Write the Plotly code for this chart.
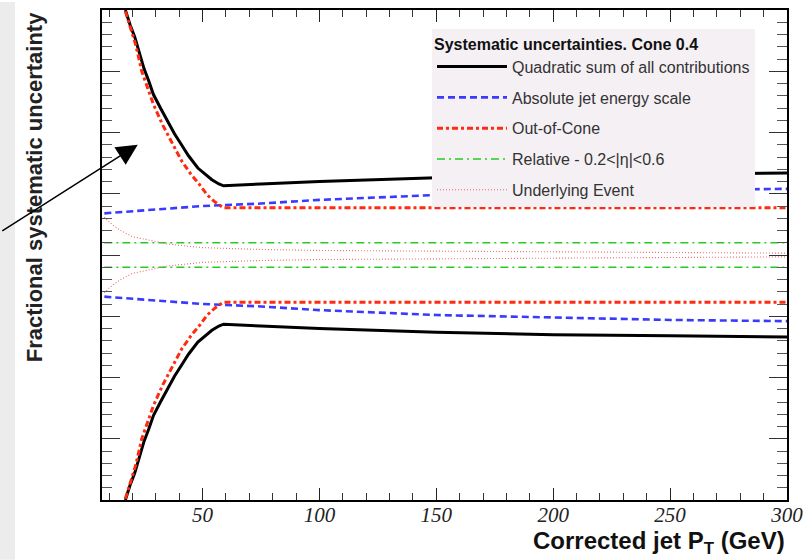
import plotly.graph_objects as go

# ---- data (fractional uncertainty vs corrected jet pT) ----
pt_total = [17, 19, 21, 23, 25, 27, 29, 32, 35, 38, 41, 44, 48, 51, 54, 57, 59, 75, 100, 150, 200, 250, 300]
total = [0.200, 0.188, 0.178, 0.165, 0.152, 0.142, 0.131, 0.120, 0.109, 0.099, 0.090, 0.081,
         0.071, 0.0665, 0.0615, 0.058, 0.0565, 0.058, 0.060, 0.063, 0.065, 0.066, 0.067]

pt_jes = [8, 30, 50, 75, 100, 150, 200, 250, 300]
jes = [0.034, 0.037, 0.040, 0.042, 0.045, 0.049, 0.051, 0.053, 0.054]

pt_ooc = [17, 20, 21.5, 24, 29, 33, 37, 41, 45, 48.5, 52, 55.5, 59, 300]
ooc = [0.199, 0.179, 0.171, 0.150, 0.123, 0.106, 0.091, 0.077, 0.066, 0.058, 0.049, 0.043, 0.0385, 0.0385]

pt_rel = [8, 300]
rel = [0.010, 0.010]

pt_ue = [8, 10, 12, 15, 20, 25, 35, 50, 75, 100, 150, 200, 300]
ue = [0.031, 0.027, 0.024, 0.020, 0.015, 0.013, 0.009, 0.006, 0.0045, 0.0037, 0.003, 0.0023, 0.0015]

names = ["Quadratic sum of all contributions", "Absolute jet energy scale", "Out-of-Cone",
         "Relative - 0.2<|\u03b7|<0.6", "Underlying Event"]

x_ticks = [50, 100, 150, 200, 250, 300]

series = [
    (pt_total, total, names[0], dict(color="#000000", width=3)),
    (pt_jes, jes, names[1], dict(color="#3a3aff", width=2.6, dash="7px,4px")),
    (pt_ooc, ooc, names[2], dict(color="#ff2a10", width=3, dash="6px,3px,3px,3px")),
    (pt_rel, rel, names[3], dict(color="#22cc22", width=1.4, dash="8px,4px,2px,4px")),
    (pt_ue, ue, names[4], dict(color="#e86a6a", width=1.1, dash="1px,2px")),
]

fig = go.Figure()
for i, (xs, ys, name, line) in enumerate(series):
    xx = list(xs) + [None] + list(xs)
    yy = list(ys) + [None] + [-v for v in ys]
    fig.add_trace(go.Scatter(x=xx, y=yy, mode="lines", name=name, line=line,
                             legendgroup=f"g{i}", connectgaps=False, hoverinfo="skip"))

fig.update_layout(
    width=812, height=560,
    margin=dict(l=102, r=25, t=8, b=60),
    paper_bgcolor="white", plot_bgcolor="white",
    showlegend=True,
    legend=dict(
        x=(432-102)/685, y=(500-27)/492, xanchor="left", yanchor="top",
        bgcolor="#f4f0f4", borderwidth=0,
        font=dict(family="Liberation Sans", size=16, color="#333333"),
        title=dict(text="<b>Systematic uncertainties. Cone 0.4</b>",
                   font=dict(family="Liberation Sans", size=16, color="#111111")),
        itemwidth=70, tracegroupgap=7, entrywidth=265,
    ),
    xaxis=dict(
        range=[7, 300], tickmode="array", tickvals=x_ticks, ticktext=[str(t) for t in x_ticks],
        ticks="inside", ticklen=12, tickwidth=1, tickcolor="#222",
        minor=dict(dtick=10, tick0=0, ticks="inside", ticklen=7, tickcolor="#333"),
        showline=True, linecolor="black", linewidth=1.5, mirror="ticks",
        showgrid=False, zeroline=False, ticklabelstandoff=-5,
        tickfont=dict(family="Liberation Serif", size=21, color="#222", style="italic"),
    ),
    yaxis=dict(
        range=[-0.2, 0.2], dtick=0.05, tick0=0,
        ticks="inside", ticklen=18, tickwidth=1.2, tickcolor="#333",
        minor=dict(dtick=0.01, ticks="inside", ticklen=10, tickcolor="#555"),
        showticklabels=False,
        showline=True, linecolor="black", linewidth=1.5, mirror="ticks",
        showgrid=False, zeroline=False,
    ),
    shapes=[dict(type="rect", xref="paper", yref="paper",
                 x0=-102/685, x1=(15-102)/685, y0=-60/492, y1=1+8/492,
                 fillcolor="#ececec", line=dict(width=0), layer="below")],
    annotations=[
        dict(text="Fractional systematic uncertainty", textangle=-90,
             xref="paper", yref="paper", x=(34-102)/685, y=(500-186)/492,
             xanchor="center", yanchor="middle", showarrow=False,
             font=dict(family="Liberation Sans", size=22, color="#222", weight="bold")),
        dict(text="Corrected jet P<sub>T</sub> (GeV)",
             xref="paper", yref="paper", x=(787-102)/685, y=(500-543)/492,
             xanchor="right", yanchor="middle", showarrow=False,
             font=dict(family="Liberation Sans", size=24, color="#111", weight="bold")),
        dict(text="", x=22.3, y=0.090, xref="x", yref="y",
             showarrow=True, ax=-137, ay=87, arrowhead=2, arrowsize=2.8,
             arrowwidth=1.5, arrowcolor="black"),
    ],
)

fig.write_html("out.html", config={"displayModeBar": False},
               post_script="document.body.style.margin='0';document.body.style.overflow='hidden';")
